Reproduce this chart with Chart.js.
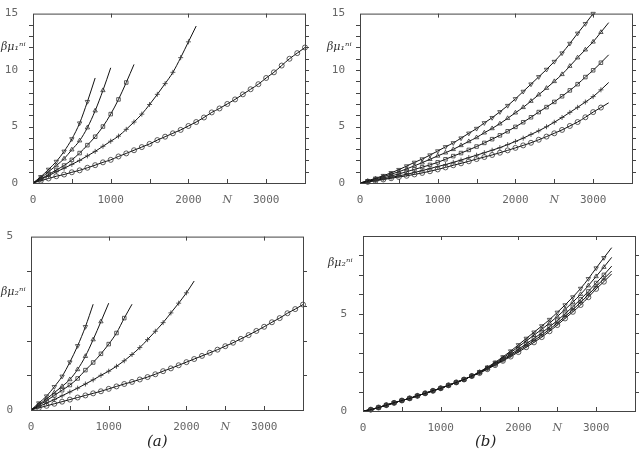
<!DOCTYPE html>
<html>
<head>
<meta charset="utf-8">
<script src="https://cdn.jsdelivr.net/npm/chart.js@4.4.1/dist/chart.umd.min.js"></script>
<style>
body { margin:0; background:#fff; width:640px; height:462px; position:relative; overflow:hidden; }
canvas { position:absolute; }
.cap { position:absolute; font:italic 15px "DejaVu Serif", serif; color:#222; }
</style>
</head>
<body>
<canvas id="a1" width="320" height="210" style="left:0;top:0"></canvas>
<canvas id="b1" width="320" height="210" style="left:320px;top:0"></canvas>
<canvas id="a2" width="320" height="215" style="left:0;top:220px"></canvas>
<canvas id="b2" width="320" height="215" style="left:320px;top:220px"></canvas>
<div class="cap" style="left:147px;top:432px">(a)</div>
<div class="cap" style="left:475px;top:432px">(b)</div>
<script>
// N grid (step 100), each series starts at N = 0
const nGrid = [0,100,200,300,400,500,600,700,800,900,1000,1100,1200,1300,1400,1500,1600,1700,1800,
  1900,2000,2100,2200,2300,2400,2500,2600,2700,2800,2900,3000,3100,3200,3300,3400,3500];

// panel (a) top : beta mu1
const a1_A = [0,0.55,1.2,1.9,2.8,3.9,5.3,7.2,9.3];
const a1_B = [0,0.45,1.0,1.55,2.15,2.95,3.75,4.9,6.4,8.2,10.2];
const a1_C = [0,0.35,0.75,1.15,1.55,2.05,2.65,3.35,4.1,5.0,6.1,7.4,8.9,10.5];
const a1_D = [0,0.3,0.65,1.0,1.3,1.65,2.0,2.4,2.8,3.25,3.7,4.15,4.75,5.4,6.1,6.95,7.85,8.8,9.8,11.1,12.5,13.9];
const a1_E = [0,0.2,0.4,0.6,0.75,0.95,1.12,1.35,1.58,1.83,2.05,2.35,2.62,2.9,3.18,3.46,3.8,4.1,4.4,4.7,
  5.05,5.4,5.8,6.25,6.6,7.0,7.4,7.85,8.3,8.75,9.3,9.8,10.4,11.0,11.5,12.0];

// panel (a) bottom : beta mu2
const a2_A = [0,0.2,0.4,0.67,0.97,1.38,1.85,2.4,3.05];
const a2_B = [0,0.15,0.32,0.5,0.68,0.88,1.17,1.55,2.03,2.55,3.08];
const a2_C = [0,0.13,0.27,0.42,0.57,0.72,0.91,1.15,1.37,1.62,1.9,2.22,2.65,3.05];
const a2_D = [0,0.1,0.2,0.3,0.41,0.52,0.63,0.75,0.87,1.0,1.12,1.26,1.42,1.6,1.8,2.03,2.27,2.52,2.8,3.08,3.38,3.72];
const a2_E = [0,0.06,0.12,0.18,0.24,0.3,0.36,0.42,0.48,0.54,0.61,0.68,0.75,0.81,0.88,0.95,1.03,1.12,1.2,1.29,
  1.38,1.47,1.56,1.65,1.74,1.84,1.94,2.05,2.16,2.28,2.4,2.53,2.65,2.79,2.91,3.04];

// panel (b) top : beta mu1
const b1_A = [0,0.2,0.42,0.65,0.9,1.18,1.5,1.82,2.12,2.47,2.83,3.2,3.55,3.97,4.4,4.82,5.32,5.78,6.3,6.85,
  7.45,8.1,8.75,9.4,10.05,10.75,11.5,12.35,13.25,14.1,15.0];
const b1_B = [0,0.17,0.36,0.56,0.78,1.0,1.25,1.52,1.8,2.1,2.4,2.68,2.98,3.33,3.68,4.03,4.45,4.83,5.25,5.73,
  6.22,6.7,7.25,7.82,8.4,9.0,9.62,10.35,11.1,11.8,12.5,13.35,14.2];
const b1_C = [0,0.14,0.29,0.45,0.62,0.8,1.0,1.2,1.4,1.6,1.83,2.1,2.38,2.65,2.93,3.23,3.55,3.88,4.22,4.58,
  4.97,5.38,5.82,6.28,6.72,7.18,7.68,8.2,8.75,9.38,9.98,10.65,11.35];
const b1_D = [0,0.11,0.23,0.36,0.5,0.63,0.77,0.93,1.1,1.28,1.46,1.63,1.83,2.03,2.25,2.46,2.68,2.9,3.13,3.4,
  3.68,3.97,4.3,4.62,4.98,5.38,5.8,6.25,6.7,7.17,7.65,8.25,8.9];
const b1_E = [0,0.1,0.2,0.31,0.42,0.53,0.64,0.76,0.89,1.04,1.2,1.38,1.57,1.74,1.92,2.12,2.3,2.48,2.68,2.89,
  3.11,3.33,3.56,3.83,4.11,4.4,4.7,5.05,5.4,5.82,6.28,6.68,7.1];

// panel (b) bottom : beta mu2
const b2_A = [0,0.07,0.18,0.3,0.42,0.54,0.65,0.78,0.91,1.04,1.17,1.32,1.47,1.62,1.8,2.02,2.25,2.5,2.78,3.08,
  3.4,3.73,4.05,4.37,4.7,5.07,5.45,5.86,6.3,6.8,7.35,7.88,8.4];
const b2_B = [0,0.07,0.18,0.3,0.42,0.54,0.65,0.78,0.91,1.04,1.17,1.32,1.47,1.62,1.8,2.0,2.22,2.46,2.72,3.0,
  3.3,3.6,3.9,4.2,4.52,4.86,5.22,5.6,6.0,6.45,6.92,7.4,7.9];
const b2_C = [0,0.07,0.18,0.3,0.42,0.54,0.65,0.78,0.91,1.04,1.17,1.32,1.47,1.62,1.8,1.98,2.2,2.42,2.66,2.91,
  3.18,3.45,3.73,4.02,4.33,4.65,5.0,5.36,5.74,6.15,6.58,7.0,7.45];
const b2_D = [0,0.07,0.18,0.3,0.42,0.54,0.65,0.78,0.91,1.04,1.17,1.32,1.47,1.62,1.8,1.96,2.17,2.39,2.61,2.85,
  3.1,3.36,3.62,3.9,4.2,4.52,4.86,5.21,5.58,5.98,6.4,6.8,7.2];
const b2_E = [0,0.07,0.18,0.3,0.42,0.54,0.65,0.78,0.91,1.04,1.17,1.32,1.47,1.62,1.8,1.95,2.15,2.36,2.58,2.8,
  3.03,3.28,3.53,3.8,4.1,4.42,4.76,5.1,5.45,5.85,6.28,6.65,7.05];

// axis ticks
const xMinorTicks = [0,500,1000,1500,2000,2500,3000,3500];
const xTopTicks = [1000,2000,3000];
const xLabels = {0:'0', 1000:'1000', 2000:'2000', 2500:'N', 3000:'3000'};
const yLabel1 = 'βμ₁ⁿⁱ';
const yLabel2 = 'βμ₂ⁿⁱ';

const markers = [
  {style:'triangle', rot:180},
  {style:'triangle', rot:0},
  {style:'rect', rot:0},
  {style:'cross', rot:0},
  {style:'circle', rot:0}
];

const framePlugin = {
  id: 'frame',
  afterDatasetsDraw(chart, args, o) {
    const {ctx, chartArea, scales} = chart;
    const {left, right, top, bottom} = chartArea;
    ctx.save();
    ctx.strokeStyle = '#444';
    ctx.lineWidth = 1;
    ctx.strokeRect(left + 0.5, top + 0.5, right - left, bottom - top);
    ctx.beginPath();
    o.yMinor.forEach(v => {
      const p = Math.round(scales.y.getPixelForValue(v)) + 0.5;
      ctx.moveTo(left - 4, p); ctx.lineTo(left, p);
      ctx.moveTo(right, p); ctx.lineTo(right + 4, p);
    });
    xMinorTicks.forEach(v => {
      const p = Math.round(scales.x.getPixelForValue(v)) + 0.5;
      ctx.moveTo(p, bottom); ctx.lineTo(p, bottom - 4);
    });
    xTopTicks.forEach(v => {
      const p = Math.round(scales.x.getPixelForValue(v)) + 0.5;
      ctx.moveTo(p, top); ctx.lineTo(p, top + 4);
    });
    ctx.stroke();
    // y axis title, sitting left of the axis
    ctx.fillStyle = '#333';
    ctx.font = 'italic 11px "DejaVu Serif", serif';
    ctx.textAlign = 'left';
    ctx.textBaseline = 'middle';
    ctx.fillText(o.label, o.labelX, scales.y.getPixelForValue(o.labelAt));
    ctx.restore();
  }
};

function panel(id, series, p) {
  const datasets = series.map((vals, i) => ({
    data: vals.map((v, k) => ({x: nGrid[k], y: v})),
    borderColor: '#111',
    borderWidth: 1,
    cubicInterpolationMode: 'monotone',
    pointStyle: markers[i].style,
    rotation: markers[i].rot,
    pointRadius: ctx => (ctx.dataIndex === 0 || (ctx.dataIndex === vals.length - 1 && !p.markEnd[i])) ? 0 : 2.5,
    pointBorderColor: '#333',
    pointBorderWidth: 0.8,
    pointBackgroundColor: 'rgba(255,255,255,0)',
    clip: false
  }));

  new Chart(document.getElementById(id), {
    type: 'line',
    data: {datasets: datasets},
    plugins: [framePlugin],
    options: {
      responsive: false,
      animation: false,
      devicePixelRatio: 1,
      layout: {padding: {top: p.top, right: p.right, left: 0, bottom: 0}},
      plugins: {
        legend: {display: false},
        tooltip: {enabled: false},
        frame: {yMinor: p.yMinor, label: p.label, labelAt: p.labelAt, labelX: p.labelX}
      },
      scales: {
        x: {
          type: 'linear', min: 0, max: 3500,
          grid: {display: false}, border: {display: false},
          afterFit: s => { s.height = p.xh; },
          ticks: {
            stepSize: 500, autoSkip: false, maxRotation: 0, padding: 3, color: '#666',
            font: c => c.tick && c.tick.value === 2500
              ? {family: '"DejaVu Serif", serif', style: 'italic', size: 11}
              : {family: '"DejaVu Sans Mono", monospace', size: 11},
            callback: v => xLabels[v] !== undefined ? xLabels[v] : ''
          }
        },
        y: {
          type: 'linear', min: 0, max: p.ymax,
          grid: {display: false}, border: {display: false},
          afterFit: s => { s.width = p.yw; },
          afterBuildTicks: s => { s.ticks = p.yTicks.map(v => ({value: v})); },
          ticks: {
            autoSkip: false, padding: p.ypad, color: '#666',
            font: {family: '"DejaVu Sans Mono", monospace', size: 11},
            callback: v => String(v)
          }
        }
      }
    }
  });
}

panel('a1', [a1_A, a1_B, a1_C, a1_D, a1_E], {
  top: 8, right: 15, yw: 33, xh: 27, ymax: 15, ypad: 7,
  yTicks: [0,5,10,15], labelAt: 12, label: yLabel1, labelX: 1,
  yMinor: [1,2,3,4,5,6,7,8,9,10,11,12,13,14],
  markEnd: [false,false,false,false,true]
});
panel('b1', [b1_A, b1_B, b1_C, b1_D, b1_E], {
  top: 8, right: 8, yw: 40, xh: 27, ymax: 15, ypad: 7,
  yTicks: [0,5,10,15], labelAt: 12, label: yLabel1, labelX: 7,
  yMinor: [1,2,3,4,5,6,7,8,9,10,11,12,13,14],
  markEnd: [true,false,false,false,false]
});
panel('a2', [a2_A, a2_B, a2_C, a2_D, a2_E], {
  top: 16, right: 17, yw: 31, xh: 25, ymax: 5, ypad: 10,
  yTicks: [0,5], labelAt: 3.4, label: yLabel2, labelX: 1,
  yMinor: [1,2,3,4],
  markEnd: [false,false,false,false,true]
});
panel('b2', [b2_A, b2_B, b2_C, b2_D, b2_E], {
  top: 16, right: 5, yw: 43, xh: 24, ymax: 9, ypad: 8,
  yTicks: [0,5], labelAt: 7.6, label: yLabel2, labelX: 8,
  yMinor: [1,2,3,4,5,6,7,8],
  markEnd: [false,false,false,false,false]
});
</script>
</body>
</html>
